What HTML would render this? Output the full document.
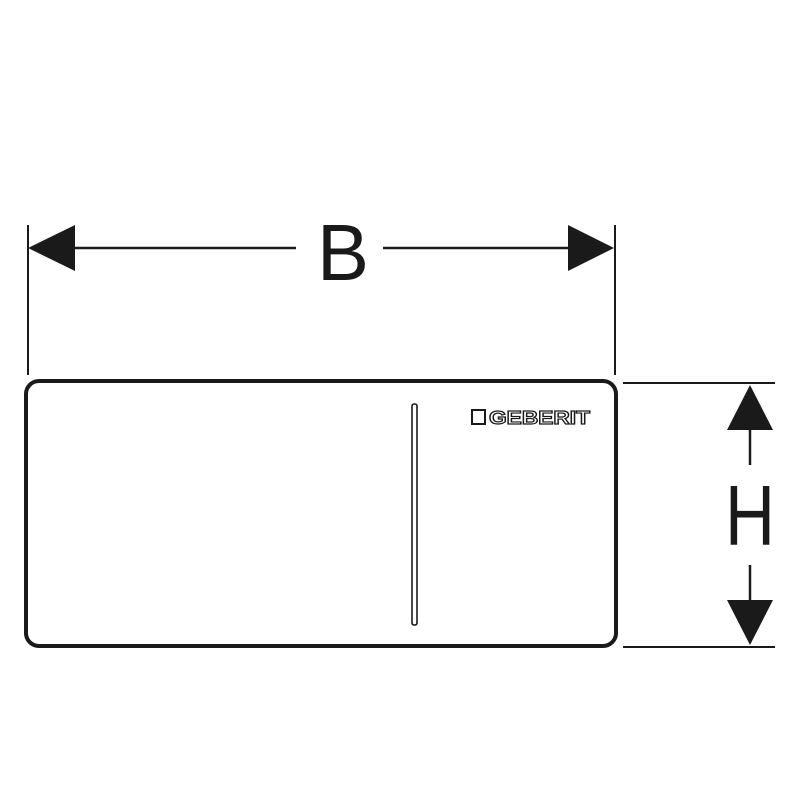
<!DOCTYPE html>
<html><head><meta charset="utf-8"><style>html,body{margin:0;padding:0;background:#fff}</style></head>
<body>
<svg width="800" height="800" viewBox="0 0 800 800" xmlns="http://www.w3.org/2000/svg">
<rect width="800" height="800" fill="#fff"/>
<g stroke="#1a1a1a" fill="none">
<line x1="28" y1="225" x2="28" y2="375" stroke-width="2"/>
<line x1="615" y1="225" x2="615" y2="375" stroke-width="2"/>
<line x1="70" y1="248" x2="296" y2="248" stroke-width="2.5"/>
<line x1="383" y1="248" x2="572" y2="248" stroke-width="2.5"/>
<line x1="623" y1="383" x2="775" y2="383" stroke-width="2"/>
<line x1="623" y1="647" x2="775" y2="647" stroke-width="2"/>
<line x1="750" y1="425" x2="750" y2="465" stroke-width="2.5"/>
<line x1="750" y1="565" x2="750" y2="605" stroke-width="2.5"/>
<rect x="26" y="381" width="590" height="265" rx="13" stroke-width="4"/>
<rect x="412" y="404" width="5" height="221" rx="2" stroke-width="1.6"/>
</g>
<g fill="#1a1a1a">
<polygon points="28,248 75,225 75,271"/>
<polygon points="614,248 568,225 568,271"/>
<polygon points="750,385 727,430 773,430"/>
<polygon points="750,645 727,600 773,600"/>
</g>
<text x="343" y="280" font-family="Liberation Sans, sans-serif" font-size="80" text-anchor="middle" fill="#1a1a1a" textLength="52" lengthAdjust="spacingAndGlyphs">B</text>
<text x="750" y="545" font-family="Liberation Sans, sans-serif" font-size="85" text-anchor="middle" fill="#1a1a1a" textLength="50" lengthAdjust="spacingAndGlyphs">H</text>
<rect x="472" y="410" width="13" height="14" fill="none" stroke="#1a1a1a" stroke-width="2"/>
<text x="489" y="424" font-family="Liberation Sans, sans-serif" font-weight="bold" font-size="18" fill="#fff" stroke="#1a1a1a" stroke-width="1.2" textLength="101" lengthAdjust="spacingAndGlyphs">GEBERIT</text>
</svg>
</body></html>
